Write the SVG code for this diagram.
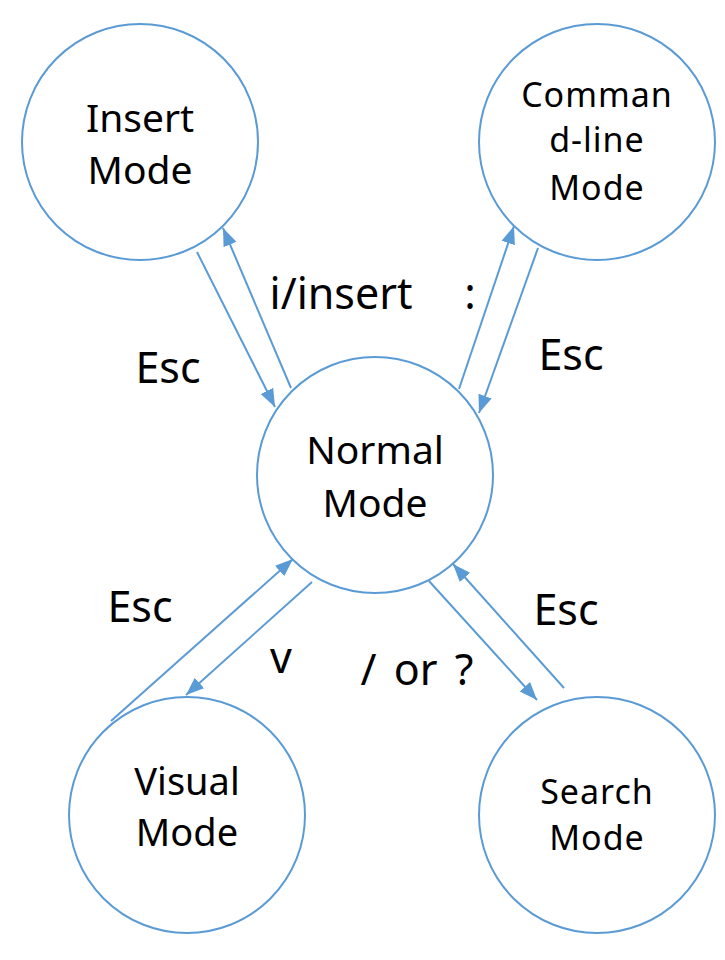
<svg xmlns="http://www.w3.org/2000/svg" width="725" height="960" viewBox="0 0 725 960">
<defs>
<style>
.node{fill:#fff;stroke:#5B9BD5;stroke-width:2}
.t{font-family:"Noto Sans","Open Sans",sans-serif;fill:#000;text-anchor:middle}
.n{font-size:39px}
.s{font-size:34px;letter-spacing:1px}
.lb{font-size:43px}
.e{stroke:#5B9BD5;stroke-width:2;fill:none;marker-end:url(#ah)}
</style>
<marker id="ah" markerUnits="userSpaceOnUse" markerWidth="20" markerHeight="16" viewBox="0 0 20 16" refX="18" refY="8" orient="auto">
<path d="M0,1 L18,8 L0,15 Z" fill="#5B9BD5"/>
</marker>
</defs>
<rect width="725" height="960" fill="#fff"/>
<g id="insert">
<circle class="node" cx="140" cy="142" r="118"/>
<text class="t n" x="140" y="132">Insert</text>
<text class="t n" x="140" y="184">Mode</text>
</g>
<g id="cmdline">
<circle class="node" cx="597" cy="142" r="118"/>
<text class="t s" x="597" y="107">Comman</text>
<text class="t s" x="597" y="152">d-line</text>
<text class="t s" x="597" y="200">Mode</text>
</g>
<g id="normal">
<circle class="node" cx="375" cy="475" r="118"/>
<text class="t n" x="375" y="464">Normal</text>
<text class="t n" x="375" y="517">Mode</text>
</g>
<g id="visual">
<circle class="node" cx="187" cy="815" r="118"/>
<text class="t" style="font-size:38px" x="187" y="795">Visual</text>
<text class="t" style="font-size:38px" x="187" y="846">Mode</text>
</g>
<g id="search">
<circle class="node" cx="597" cy="815" r="118"/>
<text class="t s" x="597" y="804">Search</text>
<text class="t s" x="597" y="850">Mode</text>
</g>
<g id="connectors">
<line class="e" x1="197" y1="252" x2="275" y2="407"/>
<line class="e" x1="291" y1="388" x2="223" y2="228"/>
<line class="e" x1="459" y1="389" x2="514" y2="226"/>
<line class="e" x1="538" y1="248" x2="479" y2="413"/>
<line class="e" x1="111" y1="721" x2="293" y2="559"/>
<line class="e" x1="312" y1="582" x2="186" y2="695"/>
<line class="e" x1="429" y1="581" x2="537" y2="700"/>
<line class="e" x1="564" y1="688" x2="453" y2="564"/>
<text class="t lb" x="341" y="309">i/insert</text>
<text class="t lb" x="470" y="309">:</text>
<text class="t lb" x="168" y="383">Esc</text>
<text class="t lb" x="571" y="370">Esc</text>
<text class="t lb" x="140" y="622">Esc</text>
<text class="t lb" x="281" y="673">v</text>
<text class="t lb" x="417" y="685" style="word-spacing:6px" xml:space="preserve">/ or ?</text>
<text class="t lb" x="566" y="625">Esc</text>
</g>
</svg>
